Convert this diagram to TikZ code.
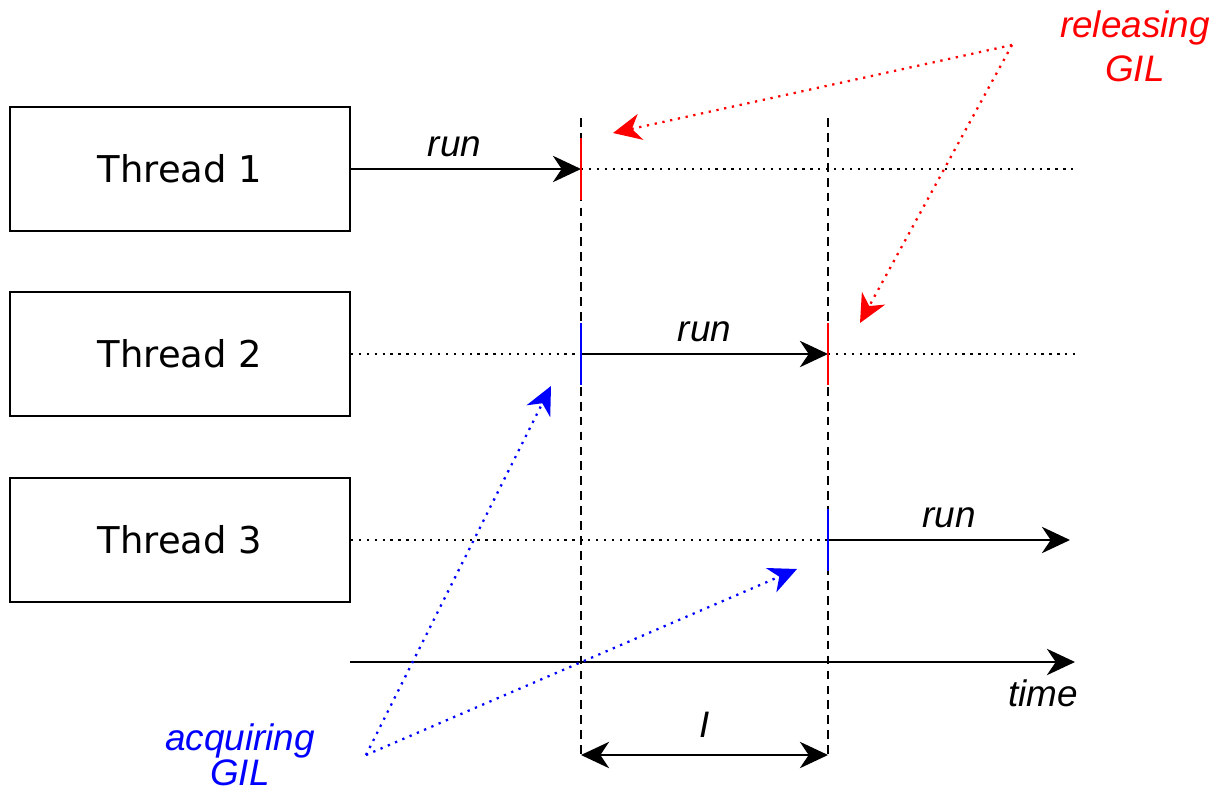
\documentclass[tikz,border=0pt]{standalone}
\usepackage{fontspec}
\setmainfont{Liberation Sans}
\newfontfamily\boxfont{DejaVu Sans}
\usetikzlibrary{arrows.meta}

\tikzset{
  thread/.style={draw, line width=1.1pt, minimum width=6.8cm, minimum height=2.48cm,
    font=\boxfont\fontsize{21}{24}\selectfont},
  lab/.style={font=\itshape\fontsize{21}{24}\selectfont},
  tip/.tip={Stealth[length=16pt,width=15pt,inset=5pt]},
  runline/.style={-tip, line width=1.2pt},
  idle/.style={line width=1.3pt, dash pattern=on 1.3pt off 3.2pt},
  grid/.style={line width=1.1pt, dash pattern=on 5pt off 3.5pt},
  tick/.style={line width=1.6pt},
  hint/.style={-tip, line width=1.3pt, dash pattern=on 1.3pt off 3.2pt}
}

\begin{document}
\begin{tikzpicture}[x=0.02cm, y=-0.02cm]
\useasboundingbox (0,0) rectangle (1223,794);

% threads
\node[thread] (t1) at (180,169) {Thread 1};
\node[thread] (t2) at (180,354) {Thread 2};
\node[thread] (t3) at (180,540) {Thread 3};

% points on the time lines
\coordinate (s1) at (581,169);
\coordinate (e1) at (1075,169);
\coordinate (s2) at (581,354);
\coordinate (f2) at (828,354);
\coordinate (e2) at (1075,354);
\coordinate (s3) at (828,540);
\coordinate (e3) at (1070,540);
\coordinate (ax0) at (350,662);
\coordinate (ax1) at (1075,662);

% switch interval
\draw[grid] (581,118) coordinate (v1) -- (581,755) coordinate (w1);
\draw[grid] (828,118) coordinate (v2) -- (828,755) coordinate (w2);
\draw[tip-tip, line width=1.2pt] (w1) -- node[lab, above=6pt] {I} (w2);

% thread 1
\draw[runline] (t1.east) -- node[lab, above=3pt, pos=0.45] {run} (s1);
\draw[idle] (s1) -- (e1);
\draw[tick, red] (s1) +(0,-31) -- +(0,31);

% thread 2
\draw[idle] (t2.east) -- (s2);
\draw[runline] (s2) -- node[lab, above=3pt] {run} (f2);
\draw[idle] (f2) -- (e2);
\draw[tick, blue] (s2) +(0,-31) -- +(0,31);
\draw[tick, red] (f2) +(0,-31) -- +(0,31);

% thread 3
\draw[idle] (t3.east) -- (s3);
\draw[runline] (s3) -- node[lab, above=3pt] {run} (e3);
\draw[tick, blue] (s3) +(0,-31) -- +(0,31);

% time axis
\draw[runline] (ax0) -- (ax1);
\node[lab, anchor=north east] (time) at (1084,674) {time};

% GIL hints
\node[lab, red, align=center] (rel) at (1135,46) {releasing\\[1pt]GIL};
\coordinate (rp) at (1012,45);
\coordinate (r1) at (613,133);
\coordinate (r2) at (860,323);
\draw[hint, red] (rp) -- (r1);
\draw[hint, red] (rp) -- (r2);

\node[lab, blue, align=center, font=\itshape\fontsize{21}{20}\selectfont] (acq) at (240,755) {acquiring\\GIL};
\coordinate (bp) at (366,755);
\coordinate (b1) at (551,386);
\coordinate (b2) at (797,569);
\draw[hint, blue] (bp) -- (b1);
\draw[hint, blue] (bp) -- (b2);
\end{tikzpicture}
\end{document}
